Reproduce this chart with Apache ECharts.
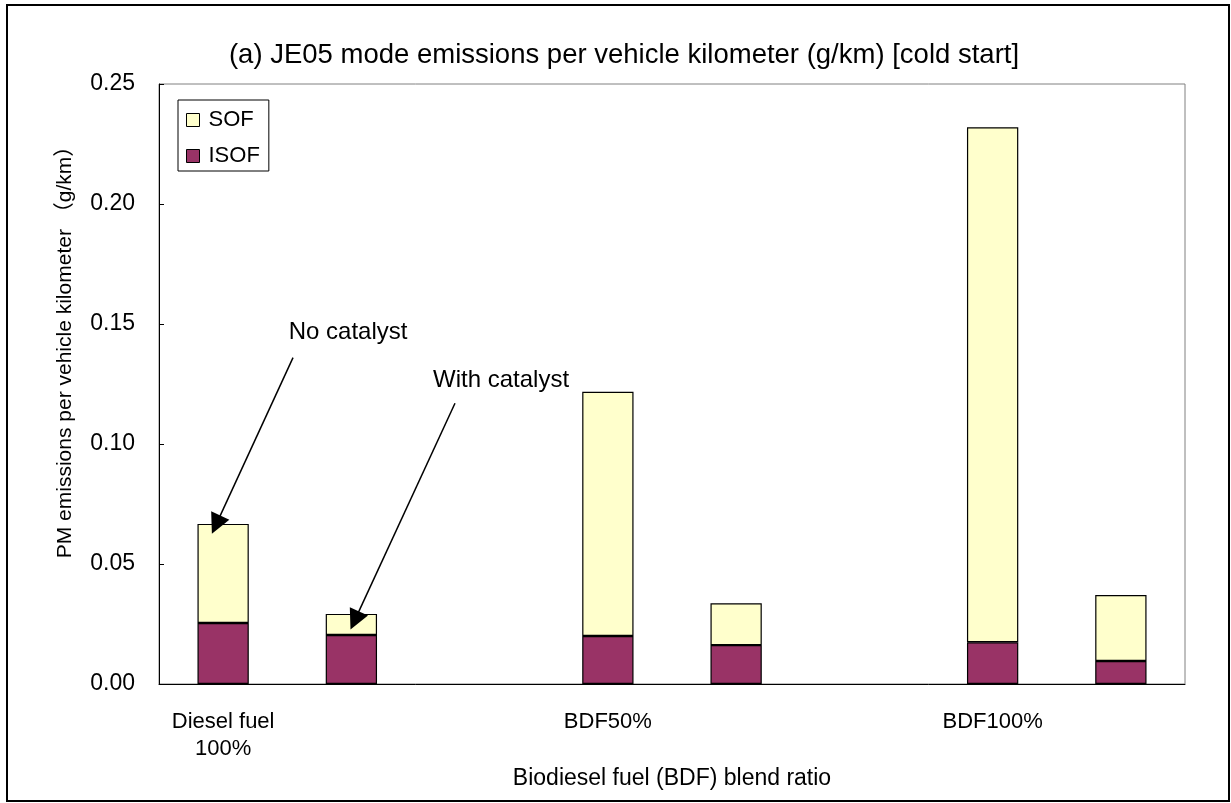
<!DOCTYPE html>
<html>
<head>
<meta charset="utf-8">
<script src="https://cdn.jsdelivr.net/npm/echarts@6/dist/echarts.min.js"></script>
<style>
html,body{margin:0;padding:0;background:#fff;}
#chart{width:1231px;height:803px;}
</style>
</head>
<body>
<div id="chart"></div>
<script>
// ---- data ----
const categories = ['Diesel fuel\n100%', '', '', 'BDF50%', '', '', 'BDF100%', ''];
const isofValues = [0.0254, 0.0204, null, 0.0200, 0.0162, null, 0.0174, 0.0096];
const sofValues  = [0.0413, 0.0088, null, 0.1018, 0.0174, null, 0.2146, 0.0275];
const yTicks = { min: 0, max: 0.25, interval: 0.05 };
const titleText = '(a) JE05 mode emissions per vehicle kilometer (g/km) [cold start]';
const xAxisName = 'Biodiesel fuel (BDF) blend ratio';
const yAxisName = 'PM emissions per vehicle kilometer （g/km）';
// annotation labels: [x position on category-index scale, y value, text]
const annotationLabels = [
  [0.974, 0.1467, 'No catalyst'],
  [2.167, 0.1267, 'With catalyst']
];
// annotation arrows: [start, end] in (category-index, value) space
const annotationArrows = [
  [[0.545, 0.136], [-0.055, 0.0664]],
  [[1.808, 0.117], [1.026, 0.0265]]
];

const FONT = '"Liberation Sans", Arial, "Noto Sans CJK JP", sans-serif';
const chart = echarts.init(document.getElementById('chart'), null, { renderer: 'canvas' });

const option = {
  animation: false,
  backgroundColor: '#ffffff',
  textStyle: { fontFamily: FONT, color: '#000' },
  title: {
    text: titleText,
    left: 619, top: 37,
    textAlign: 'center',
    textStyle: { fontFamily: FONT, fontSize: 27.5, fontWeight: 'normal', color: '#000' }
  },
  graphic: [{
    type: 'rect',
    shape: { x: 7, y: 5, width: 1222, height: 796 },
    style: { fill: null, stroke: '#000', lineWidth: 2 },
    silent: true, z: 100
  }],
  legend: {
    orient: 'vertical',
    left: 178, top: 100,
    padding: [9, 9, 4, 8],
    itemGap: 14,
    itemWidth: 13, itemHeight: 13,
    borderColor: '#000', borderWidth: 1,
    icon: 'rect',
    textStyle: { fontFamily: FONT, fontSize: 22, color: '#000', padding: [0, 0, 0, 4] },
    data: [
      { name: 'SOF', itemStyle: { color: '#FFFFCC', borderColor: '#000', borderWidth: 1 } },
      { name: 'ISOF', itemStyle: { color: '#993366', borderColor: '#000', borderWidth: 1 } }
    ]
  },
  grid: {
    left: 159, right: 46, top: 84, bottom: 119,
    show: true, borderColor: '#808080', borderWidth: 1, backgroundColor: 'transparent'
  },
  xAxis: [{
    type: 'category',
    data: categories,
    boundaryGap: true,
    axisLine: { lineStyle: { color: '#000', width: 1 } },
    axisTick: { inside: true, length: 5, interval: 0, lineStyle: { color: '#000' } },
    axisLabel: { interval: 0, margin: 24, fontSize: 22, lineHeight: 27, color: '#000', fontFamily: FONT },
    name: xAxisName,
    nameLocation: 'middle',
    nameGap: 77,
    nameTextStyle: { fontSize: 23, color: '#000', fontFamily: FONT }
  }, {
    type: 'value',
    min: -0.5, max: 7.5,
    show: false
  }],
  yAxis: {
    type: 'value',
    min: yTicks.min, max: yTicks.max, interval: yTicks.interval,
    axisLine: { show: true, onZero: false, lineStyle: { color: '#000', width: 1 } },
    axisTick: { show: true, inside: true, length: 5, lineStyle: { color: '#000' } },
    splitLine: { show: false },
    axisLabel: { margin: 24, fontSize: 23, color: '#000', fontFamily: FONT, formatter: v => v.toFixed(2) },
    name: yAxisName,
    nameLocation: 'middle',
    nameGap: 83,
    nameTextStyle: { fontSize: 21, color: '#000', fontFamily: FONT, padding: [0, 0, 0, 74] }
  },
  series: [
    {
      name: 'ISOF', type: 'bar', stack: 'pm', xAxisIndex: 0,
      barWidth: '40%',
      itemStyle: { color: '#993366', borderColor: '#000', borderWidth: 1.2 },
      data: isofValues
    },
    {
      name: 'SOF', type: 'bar', stack: 'pm', xAxisIndex: 0,
      barWidth: '40%',
      itemStyle: { color: '#FFFFCC', borderColor: '#000', borderWidth: 1.2 },
      data: sofValues
    },
    {
      name: 'annotations', type: 'scatter', xAxisIndex: 1,
      symbolSize: 0, silent: true,
      itemStyle: { opacity: 1 },
      label: {
        show: true, position: 'inside', color: '#000', fontSize: 24, fontFamily: FONT,
        formatter: p => p.data[2]
      },
      data: annotationLabels,
      markLine: {
        silent: true,
        symbol: ['none', 'triangle'],
        symbolSize: 20,
        label: { show: false },
        lineStyle: { color: '#000', width: 1.5, type: 'solid', opacity: 1 },
        data: annotationArrows.map(a => [{ coord: a[0] }, { coord: a[1] }])
      }
    }
  ]
};
chart.setOption(option);
</script>
</body>
</html>
